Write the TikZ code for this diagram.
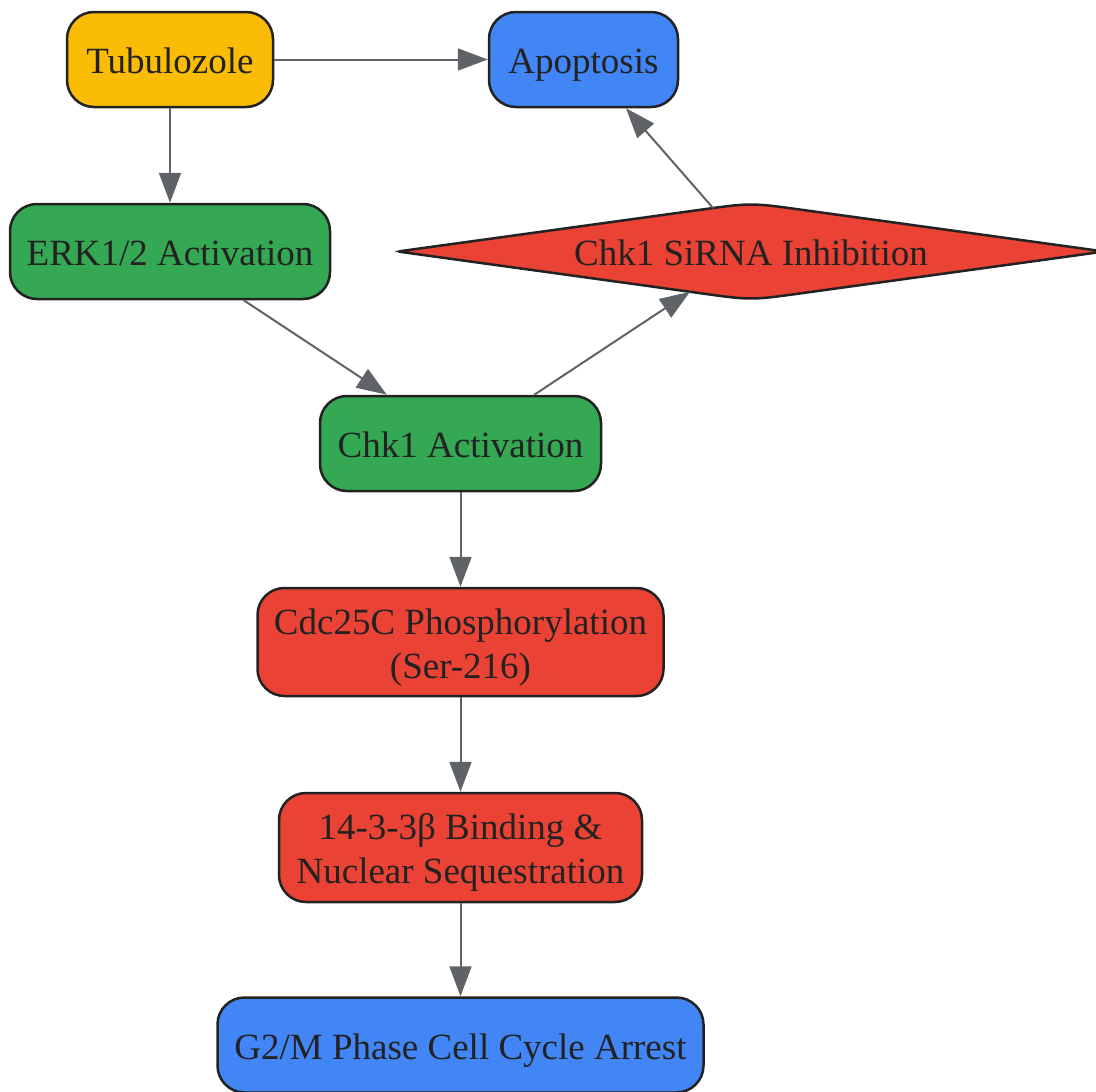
\documentclass[tikz,border=0pt]{standalone}
\usepackage{fontspec}
\setmainfont{Liberation Serif}
\usetikzlibrary{shapes.geometric,arrows.meta,calc,backgrounds}
\definecolor{cy}{HTML}{FBBC05}
\definecolor{cb}{HTML}{4285F4}
\definecolor{cg}{HTML}{34A853}
\definecolor{cr}{HTML}{EA4335}
\definecolor{bd}{HTML}{222222}
\definecolor{ln}{HTML}{5F6368}
\begin{document}
\begin{tikzpicture}[x=1pt,y=-1pt,
  txt/.style={text=bd, font=\fontsize{37}{44}\selectfont},
  one/.style={text height=31pt, text depth=3pt},
  two/.style={text height=75pt, text depth=3pt},
  box/.style={txt, rectangle, rounded corners=27pt, draw=bd, line width=2.5pt, inner sep=0pt,
    align=center},
  arr/.style={draw=ln, line width=2pt, -{Triangle[length=30pt,width=22pt]}}]
\useasboundingbox (0,0) rectangle (1096,1092);
\node[box, one, fill=cy, minimum width=206pt, minimum height=95pt] (tub) at (170,59.5) {Tubulozole};
\node[box, one, fill=cb, minimum width=189pt, minimum height=95pt] (apo) at (583.5,59.5) {Apoptosis};
\node[box, one, fill=cg, minimum width=320pt, minimum height=95pt] (erk) at (170,251.5) {ERK1/2 Activation};
\node[txt, one, shape=diamond, aspect=7.3, minimum width=706pt, minimum height=97pt, inner sep=0pt]
  (sirna) at (751,251.5) {Chk1 SiRNA Inhibition};
\node[box, one, fill=cg, minimum width=281pt, minimum height=95pt] (chk) at (460.5,443.5) {Chk1 Activation};
\node[box, two, fill=cr, minimum width=406pt, minimum height=108pt] (cdc) at (460.5,642) {Cdc25C Phosphorylation\\(Ser-216)};
\node[box, two, fill=cr, minimum width=363pt, minimum height=109pt] (bind) at (460.5,847.5) {14-3-3β Binding \&\\Nuclear Sequestration};
\node[box, one, fill=cb, minimum width=486pt, minimum height=95pt] (g2m) at (460.5,1045) {G2/M Phase Cell Cycle Arrest};
\begin{scope}[on background layer]
\path[draw=bd, fill=cr, line width=2.5pt]
 ($(sirna.west)!6pt!(sirna.north)$) -- ($(sirna.north)!50pt!(sirna.west)$)
 .. controls (sirna.north) .. ($(sirna.north)!50pt!(sirna.east)$)
 -- ($(sirna.east)!6pt!(sirna.north)$)
 .. controls (sirna.east) .. ($(sirna.east)!6pt!(sirna.south)$)
 -- ($(sirna.south)!50pt!(sirna.east)$)
 .. controls (sirna.south) .. ($(sirna.south)!50pt!(sirna.west)$)
 -- ($(sirna.west)!6pt!(sirna.south)$)
 .. controls (sirna.west) .. ($(sirna.west)!6pt!(sirna.north)$) -- cycle;
\end{scope}
\draw[arr] (tub) -- (apo);
\draw[arr] (tub) -- (erk);
\draw[arr] (erk) -- (chk);
\draw[arr] (chk) -- (sirna);
\draw[arr] (sirna) -- (apo);
\draw[arr] (chk) -- (cdc);
\draw[arr] (cdc) -- (bind);
\draw[arr] (bind) -- (g2m);
\end{tikzpicture}
\end{document}
